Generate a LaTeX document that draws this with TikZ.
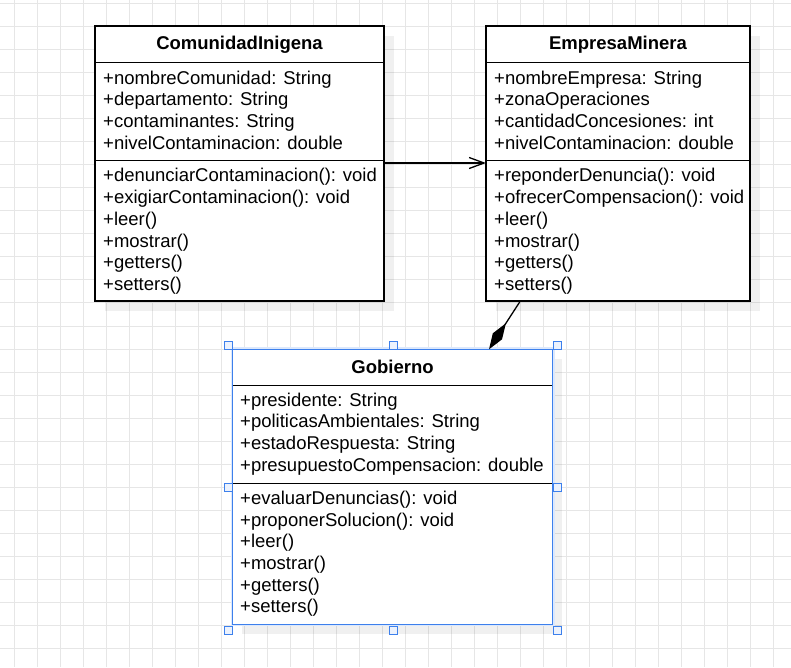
\documentclass[tikz,border=0pt]{standalone}
\usepackage{fontspec}
\setmainfont{Liberation Sans}
\usetikzlibrary{arrows.meta}

\definecolor{gridgray}{HTML}{E6E6E6}
\definecolor{selblue}{HTML}{3D80EC}

\begin{document}
\begin{tikzpicture}[x=1pt, y=-1pt,
  gridline/.style={gridgray, line width=1pt},
  classbox/.style={draw, line width=1.4pt, fill=white, inner sep=0pt, outer sep=0pt, anchor=north west},
  shadowbox/.style={fill=black, opacity=0.06, inner sep=0pt, anchor=north west},
  sepline/.style={line width=1.4pt},
  classtitle/.style={font=\bfseries\fontsize{18.5}{21.7}\selectfont, inner sep=0pt},
  members/.style={anchor=north west, align=left, inner sep=0pt, font=\fontsize{18.5}{21.7}\selectfont},
  selection/.style={draw=selblue, line width=1.5pt},
  halo/.style={draw=selblue!18, line width=4pt},
  handle/.style={draw=selblue, fill=selblue!10, line width=0.8pt, minimum size=8pt, inner sep=0pt},
  arrow/.style={-{Straight Barb[length=15pt, width=11pt]}, line width=1.3pt},
  compose/.style={-{Diamond[length=31pt, width=11pt]}, line width=1.3pt}
]
\useasboundingbox (0,0) rectangle (791,667);
\fill[white] (0,0) rectangle (791,667);

% background grid
\foreach \gx in {14,37,...,791} \draw[gridline] (\gx,0) -- (\gx,667);
\foreach \gy in {3.3,26.35,...,667} \draw[gridline] (0,\gy) -- (791,\gy);

% shadows
\node[shadowbox, minimum width=289pt, minimum height=275pt] (comunidadshadow) at (105,36) {};
\node[shadowbox, minimum width=264pt, minimum height=275pt] (empresashadow) at (496,36) {};
\node[shadowbox, minimum width=320pt, minimum height=275pt] (gobiernoshadow) at (242,359) {};

% ComunidadInigena
\node[classbox, minimum width=289pt, minimum height=275pt] (comunidad) at (95,26) {};
\draw[sepline] ([yshift=-36.5pt]comunidad.north west) -- ([yshift=-36.5pt]comunidad.north east);
\draw[sepline] ([yshift=-134.5pt]comunidad.north west) -- ([yshift=-134.5pt]comunidad.north east);
\node[classtitle] (comunidadtitle) at (239.5,44.5) {ComunidadInigena};
\node[members] (comunidadattr) at (103,70.5) {+nombreComunidad: String\\+departamento: String\\+contaminantes: String\\+nivelContaminacion: double};
\node[members] (comunidadops) at (103,168.3) {+denunciarContaminacion(): void\\+exigiarContaminacion(): void\\+leer()\\+mostrar()\\+getters()\\+setters()};

% EmpresaMinera
\node[classbox, minimum width=264pt, minimum height=275pt] (empresa) at (486,26) {};
\draw[sepline] ([yshift=-36.5pt]empresa.north west) -- ([yshift=-36.5pt]empresa.north east);
\draw[sepline] ([yshift=-134.5pt]empresa.north west) -- ([yshift=-134.5pt]empresa.north east);
\node[classtitle] (empresatitle) at (618,44.5) {EmpresaMinera};
\node[members] (empresaattr) at (494,70.5) {+nombreEmpresa: String\\+zonaOperaciones\\+cantidadConcesiones: int\\+nivelContaminacion: double};
\node[members] (empresaops) at (494,168.3) {+reponderDenuncia(): void\\+ofrecerCompensacion(): void\\+leer()\\+mostrar()\\+getters()\\+setters()};

% Gobierno (selected)
\draw[halo] (232.5,349.3) rectangle (552.5,624.3);
\node[classbox, minimum width=320pt, minimum height=275pt] (gobierno) at (232.5,349.3) {};
\draw[sepline] ([yshift=-36pt]gobierno.north west) -- ([yshift=-36pt]gobierno.north east);
\draw[sepline] ([yshift=-134pt]gobierno.north west) -- ([yshift=-134pt]gobierno.north east);
\draw[selection] (gobierno.north west) rectangle (gobierno.south east);
\node[classtitle] (gobiernotitle) at (392.5,367) {Gobierno};
\node[members] (gobiernoattr) at (240,392.6) {+presidente: String\\+politicasAmbientales: String\\+estadoRespuesta: String\\+presupuestoCompensacion: double};
\node[members] (gobiernoops) at (240,490.8) {+evaluarDenuncias(): void\\+proponerSolucion(): void\\+leer()\\+mostrar()\\+getters()\\+setters()};

\node[handle] (handlenw) at (228.5,345) {};
\node[handle] (handlen) at (393,345) {};
\node[handle] (handlene) at (557.5,345) {};
\node[handle] (handlew) at (228.5,487.5) {};
\node[handle] (handlee) at (557.5,487.5) {};
\node[handle] (handlesw) at (228.5,630) {};
\node[handle] (handles) at (393,630) {};
\node[handle] (handlese) at (557.5,630) {};

% associations
\coordinate (assocstart) at (384,163);
\coordinate (compstart) at (520,301.5);
\coordinate (comptip) at (489,349.3);
\draw[arrow] (assocstart) -- (assocstart -| empresa.west);
\draw[compose] (compstart) -- (comptip);
\end{tikzpicture}
\end{document}
